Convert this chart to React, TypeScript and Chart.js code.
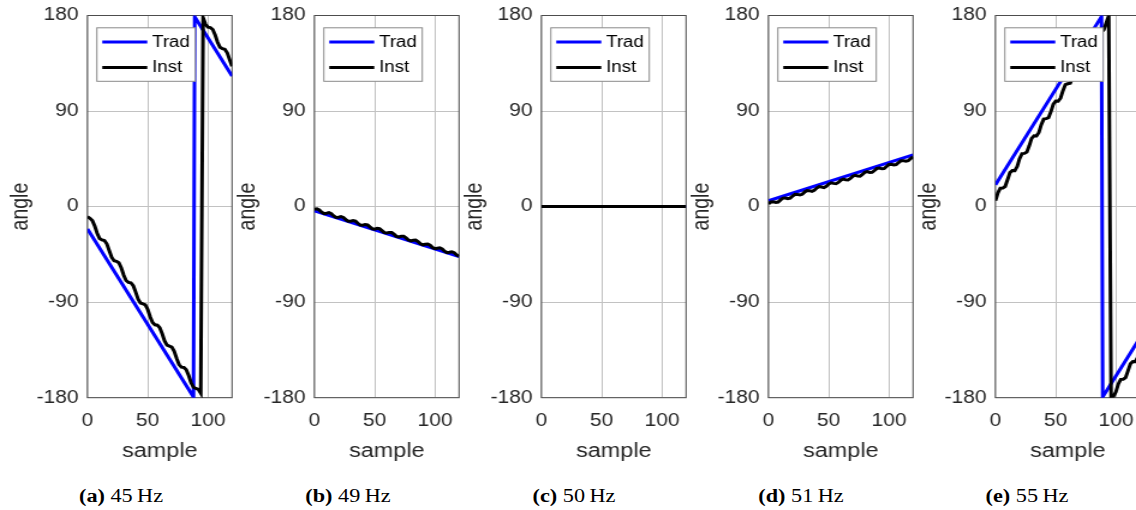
import React, { useEffect, useRef } from "react";
import { Chart, registerables } from "chart.js";

Chart.register(...registerables);

// ---------- data ----------
const X_TICKS = [0, 50, 100];
const Y_TICKS = [-180, -90, 0, 90, 180];
const X_MIN = 0;
const X_MAX = 120;

const SAMPLES = [
  0, 2, 4, 6, 8, 10, 12, 14, 16, 18, 20, 22, 24, 26, 28, 30, 32, 34, 36, 38, 40,
  42, 44, 46, 48, 50, 52, 54, 56, 58, 60, 62, 64, 66, 68, 70, 72, 74, 76, 78, 80,
  82, 84, 86, 88, 90, 92, 94, 96, 98, 100, 102, 104, 106, 108, 110, 112, 114, 116, 118, 120,
];

// (a) 45 Hz
const TRAD_45_X = [0, 88, 89, 120];
const TRAD_45_Y = [-21, -179.4, 178.8, 123];
const INST_45 = [
  -9.5, -11.0, -13.2, -18.3, -25.1, -30.0, -31.4, -32.0, -35.0, -41.3, -47.7,
  -51.0, -51.5, -52.9, -57.6, -64.4, -69.6, -71.4, -71.8, -74.5, -80.6,
  -87.1, -90.8, -91.5, -92.6, -96.9, -103.7, -109.2, -111.3, -111.7, -114.1,
  -119.8, -126.5, -130.5, -131.4, -132.3, -136.3, -143.0, -148.8, -151.2, -151.5,
  -153.6, -159.1, -165.9, -170.2, -171.3, -172.1, -175.7, 177.8, 171.7, 169.0,
  168.6, 166.8, 161.6, 154.8, 150.1, 148.7, 148.2, 144.9, 138.5, 132.2,
];

// (b) 49 Hz
const TRAD_49_X = [0, 120];
const TRAD_49_Y = [-4, -47.2];
const INST_49 = [
  -2.5, -2.1, -3.2, -5.3, -6.6, -6.2, -5.7, -6.7, -8.8, -10.2, -10.0,
  -9.4, -10.2, -12.2, -13.8, -13.7, -13.1, -13.7, -15.7, -17.4, -17.5,
  -16.8, -17.2, -19.1, -20.9, -21.2, -20.5, -20.8, -22.6, -24.5, -24.9,
  -24.3, -24.4, -26.0, -28.0, -28.6, -28.0, -27.9, -29.5, -31.5, -32.3,
  -31.7, -31.5, -33.0, -35.0, -36.0, -35.5, -35.2, -36.4, -38.5, -39.6,
  -39.2, -38.8, -39.9, -42.0, -43.3, -43.0, -42.5, -43.4, -45.5, -46.9,
];

// (c) 50 Hz
const TRAD_50_X = [0, 120];
const TRAD_50_Y = [0, 0];
const INST_50_X = [0, 120];
const INST_50_Y = [0, 0];

// (d) 51 Hz
const TRAD_51_X = [0, 120];
const TRAD_51_Y = [5.5, 48.7];
const INST_51 = [
  2.5, 4.4, 4.6, 3.9, 4.3, 6.3, 8.0, 8.1, 7.4, 8.0, 10.0,
  11.6, 11.5, 10.9, 11.6, 13.8, 15.2, 15.0, 14.4, 15.4, 17.5,
  18.8, 18.4, 17.9, 19.1, 21.2, 22.4, 21.9, 21.5, 22.8, 24.9,
  25.9, 25.3, 25.1, 26.5, 28.6, 29.4, 28.8, 28.7, 30.3, 32.3,
  32.9, 32.2, 32.3, 34.0, 36.0, 36.4, 35.7, 35.9, 37.8, 39.7,
  39.9, 39.2, 39.6, 41.5, 43.3, 43.3, 42.7, 43.2, 45.3, 46.9,
];

// (e) 55 Hz
const TRAD_55_X = [0, 88, 89, 120];
const TRAD_55_Y = [20.5, 178.9, -179.3, -123.5];
const INST_55 = [
  5.6, 13.0, 17.3, 17.4, 18.9, 25.3, 32.0, 34.0, 33.9, 37.7, 45.1,
  49.9, 50.1, 51.3, 57.3, 64.3, 66.7, 66.5, 69.9, 77.2, 82.4,
  82.9, 83.7, 89.4, 96.5, 99.4, 99.2, 102.1, 109.2, 114.9, 115.7,
  116.2, 121.4, 128.7, 132.1, 131.9, 134.3, 141.3, 147.3, 148.4, 148.7,
  153.5, 160.9, 164.7, 164.6, 166.6, 173.3, 179.7, -178.8, -178.7, -174.4,
  -167.0, -162.7, -162.6, -161.1, -154.7, -148.0, -146.0, -146.1, -142.3, -134.9,
];

const SERIES_NAMES = ["Trad", "Inst"];
const CAPTION_LETTERS = ["(a)", "(b)", "(c)", "(d)", "(e)"];
const CAPTION_FREQS = ["45", "49", "50", "51", "55"];
const X_LABEL = "sample";
const Y_LABEL = "angle";

// ---------- styling / layout ----------
const SX = 1.2; // horizontal stretch of the original figure
const CANVAS_W = 200;
const CANVAS_H = 470;
const PANEL_STEP = 227;
const PLOT_LEFT_PAGE = 87.5;
const Y_AXIS_W = PLOT_LEFT_PAGE / SX;
const PLOT_W = 144.5 / SX;
const PAD_RIGHT = CANVAS_W - Y_AXIS_W - PLOT_W;
const PLOT_TOP = 15.5;
const PLOT_BOTTOM = 397.7;
const X_AXIS_H = CANVAS_H - PLOT_BOTTOM;
const CAPTION_CENTER0 = 121;
const CAPTION_STEP = 226.5;

const SANS = "'Liberation Sans', Arial, Helvetica, sans-serif";
const SERIF = "'Liberation Serif', 'Times New Roman', Times, serif";
const TEXT = "#262626";
const GRID = "#c2c2c2";
const BORDER = "#4d4d4d";
const BLUE = "#0000ff";
const BLACK = "#000000";

const boxPlugin = {
  id: "axesBox",
  beforeDatasetsDraw(chart: any) {
    const { ctx, chartArea: a } = chart;
    ctx.save();
    ctx.strokeStyle = BORDER;
    ctx.lineWidth = 1;
    ctx.strokeRect(a.left, a.top, a.right - a.left, a.bottom - a.top);
    ctx.restore();
  },
};

const legendPlugin = {
  id: "matlabLegend",
  afterDatasetsDraw(chart: any) {
    const { ctx, chartArea: a } = chart;
    const x0 = a.left + 7.8;
    const y0 = a.top + 12.3;
    const w = 82;
    const h = 53.5;
    ctx.save();
    ctx.fillStyle = "#ffffff";
    ctx.fillRect(x0, y0, w, h);
    ctx.strokeStyle = "#8a8a8a";
    ctx.lineWidth = 1;
    ctx.strokeRect(x0, y0, w, h);
    chart.data.datasets.forEach((ds: any, i: number) => {
      const ly = y0 + 14.2 + i * 25.5;
      ctx.strokeStyle = ds.borderColor;
      ctx.lineWidth = 3;
      ctx.beginPath();
      ctx.moveTo(x0 + 4.5, ly);
      ctx.lineTo(x0 + 42, ly);
      ctx.stroke();
      ctx.fillStyle = "#000000";
      ctx.font = `15.6px ${SANS}`;
      ctx.textBaseline = "middle";
      ctx.textAlign = "left";
      ctx.fillText(ds.label, x0 + 46, ly + 0.5);
    });
    ctx.restore();
  },
};

function pts(xs: number[], ys: number[]) {
  return xs.map((x, i) => ({ x, y: ys[i] }));
}

const PANELS = [
  { trad: pts(TRAD_45_X, TRAD_45_Y), inst: pts(SAMPLES, INST_45) },
  { trad: pts(TRAD_49_X, TRAD_49_Y), inst: pts(SAMPLES, INST_49) },
  { trad: pts(TRAD_50_X, TRAD_50_Y), inst: pts(INST_50_X, INST_50_Y) },
  { trad: pts(TRAD_51_X, TRAD_51_Y), inst: pts(SAMPLES, INST_51) },
  { trad: pts(TRAD_55_X, TRAD_55_Y), inst: pts(SAMPLES, INST_55) },
];

function Panel({ index }: { index: number }) {
  const ref = useRef<HTMLCanvasElement | null>(null);
  useEffect(() => {
    const canvas = ref.current;
    if (!canvas) return;
    const p = PANELS[index];
    const chart = new Chart(canvas, {
      type: "line",
      data: {
        datasets: [
          {
            label: SERIES_NAMES[0],
            data: p.trad,
            borderColor: BLUE,
            backgroundColor: BLUE,
            borderWidth: 3,
            pointRadius: 0,
            tension: 0,
            fill: false,
            order: 2,
          },
          {
            label: SERIES_NAMES[1],
            data: p.inst,
            borderColor: BLACK,
            backgroundColor: BLACK,
            borderWidth: 3,
            pointRadius: 0,
            tension: 0,
            fill: false,
            order: 1,
          },
        ],
      },
      options: {
        animation: false,
        responsive: false,
        devicePixelRatio: 1,
        events: [],
        parsing: false as any,
        layout: { padding: { left: 0, top: PLOT_TOP, right: PAD_RIGHT, bottom: 0 } },
        plugins: {
          legend: { display: false },
          tooltip: { enabled: false },
          title: { display: false },
        },
        scales: {
          x: {
            type: "linear",
            min: X_MIN,
            max: X_MAX,
            afterBuildTicks: (s: any) => {
              s.ticks = X_TICKS.map((v) => ({ value: v }));
            },
            afterFit: (s: any) => {
              s.height = X_AXIS_H;
            },
            grid: {
              color: GRID,
              lineWidth: 1,
              drawTicks: true,
              tickLength: 12.6,
              tickColor: "rgba(0,0,0,0)",
            },
            border: { display: false },
            ticks: {
              padding: 0,
              color: TEXT,
              autoSkip: false,
              maxRotation: 0,
              font: { family: SANS, size: 17.5 },
              callback: (v: any) => String(v),
            },
            title: {
              display: true,
              text: X_LABEL,
              color: TEXT,
              font: { family: SANS, size: 19.5 },
              padding: { top: 0, bottom: 6.3 },
            },
          },
          y: {
            type: "linear",
            min: -180,
            max: 180,
            afterBuildTicks: (s: any) => {
              s.ticks = Y_TICKS.map((v) => ({ value: v }));
            },
            afterFit: (s: any) => {
              s.width = Y_AXIS_W;
            },
            grid: {
              color: GRID,
              lineWidth: 1,
              drawTicks: true,
              tickLength: 7.5,
              tickColor: "rgba(0,0,0,0)",
            },
            border: { display: false },
            ticks: {
              padding: 0,
              color: TEXT,
              autoSkip: false,
              font: { family: SANS, size: 17.5 },
              callback: (v: any) => String(v),
            },
            title: {
              display: true,
              text: Y_LABEL,
              color: TEXT,
              font: { family: SANS, size: 19.5 },
              padding: { top: 5.5, bottom: 0 },
            },
          },
        },
      } as any,
      plugins: [boxPlugin, legendPlugin],
    });
    return () => chart.destroy();
  }, [index]);

  return (
    <div
      style={{
        position: "absolute",
        left: PANEL_STEP * index,
        top: 0,
        width: CANVAS_W,
        height: CANVAS_H,
        transform: `scaleX(${SX})`,
        transformOrigin: "0 0",
      }}
    >
      <canvas
        ref={ref}
        width={CANVAS_W}
        height={CANVAS_H}
        style={{ width: CANVAS_W, height: CANVAS_H, display: "block" }}
      />
    </div>
  );
}

function Caption({ index }: { index: number }) {
  const center = CAPTION_CENTER0 + CAPTION_STEP * index;
  return (
    <div
      style={{
        position: "absolute",
        left: center - 100,
        top: 484,
        width: 200,
        textAlign: "center",
        transform: `scaleX(${SX})`,
        transformOrigin: "50% 50%",
        fontFamily: SERIF,
        fontSize: 18.5,
        lineHeight: "24px",
        color: "#000",
        whiteSpace: "nowrap",
      }}
    >
      <b>{CAPTION_LETTERS[index]}</b> {CAPTION_FREQS[index]}
      {"\u2009"}Hz
    </div>
  );
}

export default function App() {
  return (
    <div
      style={{
        position: "fixed",
        left: 0,
        top: 0,
        width: 1136,
        height: 510,
        overflow: "hidden",
        background: "#ffffff",
      }}
    >
      {PANELS.map((_, i) => (
        <Panel key={i} index={i} />
      ))}
      {PANELS.map((_, i) => (
        <Caption key={"c" + i} index={i} />
      ))}
    </div>
  );
}
